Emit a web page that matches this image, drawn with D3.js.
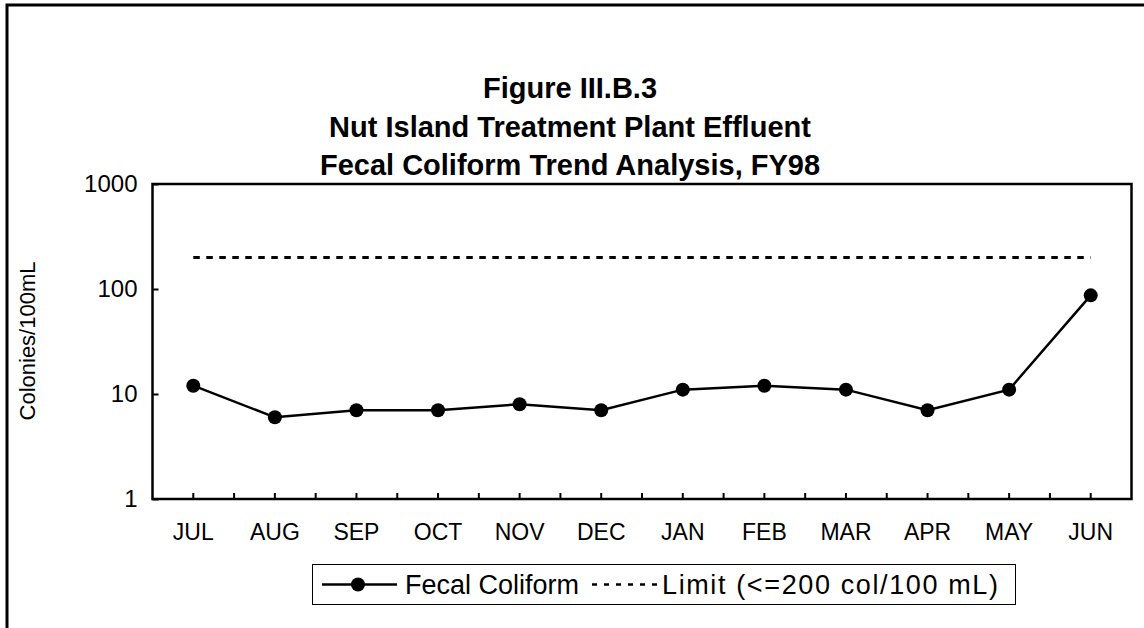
<!DOCTYPE html>
<html><head><meta charset="utf-8">
<script src="https://cdn.jsdelivr.net/npm/d3@7"></script>
<style>body{margin:0;background:#fff;} text{font-family:"Liberation Sans",Arial,sans-serif;}</style>
</head><body>
<svg id="chart" width="1144" height="628"></svg>
<script>
const months = ["JUL","AUG","SEP","OCT","NOV","DEC","JAN","FEB","MAR","APR","MAY","JUN"];
const fecalColiform = [12,6,7,7,8,7,11,12,11,7,11,87];
const limitValue = 200;
const yTicks = [1,10,100,1000];
const titleLines = ["Figure III.B.3","Nut Island Treatment Plant Effluent","Fecal Coliform Trend Analysis, FY98"];
const yLabel = "Colonies/100mL";
const legendLabels = ["Fecal Coliform","Limit (<=200 col/100 mL)"];

const svg = d3.select("#chart");
const m = {left:152.5, right:1131.5, top:184, bottom:499};
const FONT = "Liberation Sans, Arial, sans-serif";

// outer frame (top & left only visible)
svg.append("path").attr("d","M7,628 L7,5 L1144,5").attr("fill","none").attr("stroke","#000").attr("stroke-width",3);

const x = d3.scaleBand().domain(months).range([m.left,m.right]);
const y = d3.scaleLog().domain([1,1000]).range([m.bottom,m.top]);

// titles
svg.selectAll("text.title").data(titleLines).enter().append("text")
  .attr("class","title")
  .attr("x",570).attr("y",(d,i)=>98+i*38.5).attr("text-anchor","middle")
  .attr("font-weight","bold").attr("font-size",29).text(d=>d);

// plot frame
svg.append("rect").attr("x",m.left).attr("y",m.top).attr("width",m.right-m.left).attr("height",m.bottom-m.top)
  .attr("fill","none").attr("stroke","#000").attr("stroke-width",2.5);

// y axis
const yAxis = d3.axisLeft(y).tickValues(yTicks).tickFormat(d3.format("d")).tickSizeInner(-6).tickSizeOuter(0).tickPadding(15);
const gy = svg.append("g").attr("transform",`translate(${m.left},0)`).call(yAxis);
gy.select(".domain").remove();
gy.selectAll("line").attr("stroke","#000").attr("stroke-width",2);
gy.selectAll("text").attr("font-size",24).attr("fill","#000").attr("font-family",FONT);

// x axis ticks at every half category
const halfTicks = d3.range(1, months.length*2).map(k => m.left + k*x.bandwidth()/2);
svg.append("g").selectAll("line").data(halfTicks).enter().append("line")
  .attr("x1",d=>d).attr("x2",d=>d).attr("y1",m.bottom).attr("y2",m.bottom-6)
  .attr("stroke","#000").attr("stroke-width",2);
const xAxis = d3.axisBottom(x).tickSize(0).tickPadding(25);
const gx = svg.append("g").attr("transform",`translate(0,${m.bottom})`).call(xAxis);
gx.select(".domain").remove();
gx.selectAll("text").attr("font-size",23).attr("fill","#000").attr("font-family",FONT);

// y label
svg.append("text").attr("transform","translate(35,341) rotate(-90)").attr("text-anchor","middle")
  .attr("font-size",22).text(yLabel);

// limit line
svg.append("line").attr("x1",x(months[0])+x.bandwidth()/2).attr("x2",x(months[months.length-1])+x.bandwidth()/2)
  .attr("y1",y(limitValue)).attr("y2",y(limitValue))
  .attr("stroke","#000").attr("stroke-width",3).attr("stroke-dasharray","6.5,6.5");

// series
const line = d3.line().x((d,i)=>x(months[i])+x.bandwidth()/2).y(d=>y(d));
svg.append("path").datum(fecalColiform).attr("d",line).attr("fill","none").attr("stroke","#000").attr("stroke-width",2.5);
svg.selectAll("circle.pt").data(fecalColiform).enter().append("circle")
  .attr("class","pt")
  .attr("cx",(d,i)=>x(months[i])+x.bandwidth()/2).attr("cy",d=>y(d)).attr("r",7).attr("fill","#000");

// legend
const lg = svg.append("g");
lg.append("rect").attr("x",312.5).attr("y",564.5).attr("width",703).attr("height",40).attr("fill","#fff").attr("stroke","#000").attr("stroke-width",1);
lg.append("line").attr("x1",322).attr("x2",397).attr("y1",584.5).attr("y2",584.5).attr("stroke","#000").attr("stroke-width",2.5);
lg.append("circle").attr("cx",358).attr("cy",584.5).attr("r",7).attr("fill","#000");
lg.append("text").attr("x",405).attr("y",594).attr("font-size",27).text(legendLabels[0]);
lg.append("line").attr("x1",592).attr("x2",658).attr("y1",584.5).attr("y2",584.5).attr("stroke","#000").attr("stroke-width",2.5).attr("stroke-dasharray","5,7");
lg.append("text").attr("x",662).attr("y",594).attr("font-size",27).attr("textLength",336).attr("lengthAdjust","spacing").text(legendLabels[1]);
</script>
</body></html>
